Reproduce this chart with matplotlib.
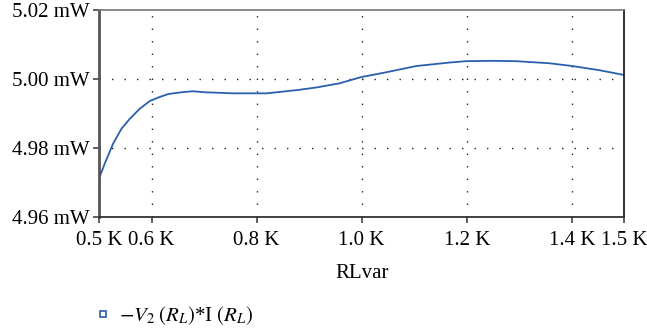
import numpy as np
import matplotlib.pyplot as plt
from matplotlib.lines import Line2D
from matplotlib.ticker import FuncFormatter

plt.rcParams['font.family'] = ['Liberation Serif', 'DejaVu Serif']
plt.rcParams['mathtext.fontset'] = 'stix'

# load resistance sweep (kOhm) and power in load (mW)
rl_k = [0.500, 0.511, 0.527, 0.543, 0.559, 0.578, 0.597, 0.613, 0.632, 0.657,
        0.679, 0.702, 0.721, 0.755, 0.790, 0.819, 0.850, 0.880, 0.914, 0.958,
        0.999, 1.047, 1.104, 1.167, 1.198, 1.249, 1.294, 1.357, 1.401, 1.452,
        1.500]
power_mw = [4.9712, 4.9756, 4.9814, 4.9857, 4.9886, 4.9915, 4.9937, 4.9947,
            4.9957, 4.9962, 4.9965, 4.9962, 4.9961, 4.9959, 4.9959, 4.9959,
            4.9964, 4.9969, 4.9976, 4.9988, 5.0006, 5.0020, 5.0038, 5.0048,
            5.0052, 5.0053, 5.0052, 5.0046, 5.0038, 5.0026, 5.0012]

x_ticks = [0.5, 0.6, 0.8, 1.0, 1.2, 1.4, 1.5]
y_ticks = [4.96, 4.98, 5.00, 5.02]
series_label = r'$-V_{2}\;(R_L)$*I $(R_L)$'

blue = '#2a5fae'
fs = 15

fig = plt.figure(figsize=(6.47, 3.34), dpi=100)
ax = fig.add_axes([0.153, 0.349, 0.812, 0.621])

ax.plot(rl_k, power_mw, color=blue, lw=1.3)

ax.set_xlim(0.5, 1.5)
ax.set_ylim(4.96, 5.02)
ax.set_xticks(x_ticks)
ax.set_yticks(y_ticks)
ax.xaxis.set_major_formatter(FuncFormatter(lambda v, p: f'{v:.1f} K'))
ax.yaxis.set_major_formatter(FuncFormatter(lambda v, p: f'{v:.2f} mW'))
ax.tick_params(labelsize=fs, direction='out', length=4, width=1.2,
               color='#444')
ax.tick_params(axis='x', pad=6)
ax.tick_params(axis='y', pad=3)
ax.set_xlabel('RLvar', fontsize=fs, labelpad=10)

# dotted grid only on interior ticks
for xv in x_ticks[1:-1]:
    ax.axvline(xv, color='#222', lw=1, ls=(0, (1, 8)), zorder=0)
for yv in y_ticks[1:-1]:
    ax.axhline(yv, color='#222', lw=1, ls=(0, (1, 8)), zorder=0)

ax.spines['left'].set_linewidth(2)
ax.spines['left'].set_color('#555')
ax.spines['bottom'].set_linewidth(1.3)
ax.spines['bottom'].set_color('#333')
ax.spines['top'].set_linewidth(1.2)
ax.spines['top'].set_color('#777')
ax.spines['right'].set_linewidth(1.2)
ax.spines['right'].set_color('#111')

handle = Line2D([], [], ls='none', marker='s', ms=4.5, mfc='white',
                mec=blue, mew=1.2)
fig.legend([handle], [series_label], loc='center left',
           bbox_to_anchor=(0.12, 0.055), frameon=False, fontsize=fs,
           handlelength=0.6, handletextpad=0.5)

fig.savefig('out.png', dpi=100)
